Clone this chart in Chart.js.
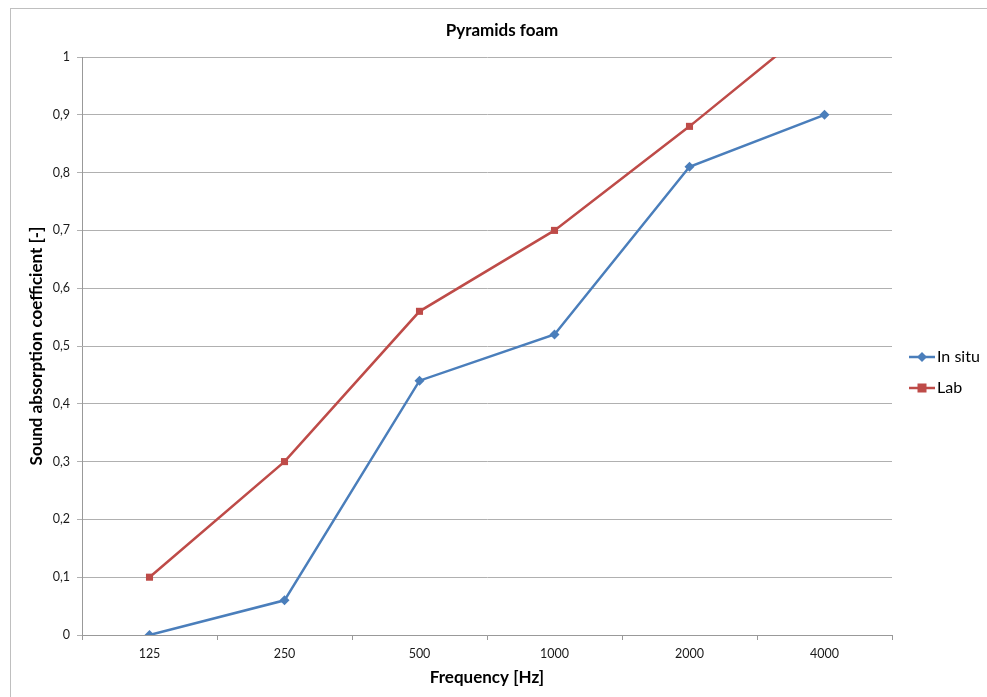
<!DOCTYPE html>
<html>
<head>
<meta charset="utf-8">
<script src="https://cdn.jsdelivr.net/npm/chart.js@4"></script>
<style>
  html, body { margin: 0; padding: 0; background: #fff; }
  #wrap { width: 987px; height: 697px; }
</style>
</head>
<body>
<div id="wrap"><canvas id="myChart" width="987" height="697"></canvas></div>
<script>
// data
const frequencies = ['125', '250', '500', '1000', '2000', '4000'];
const inSitu = [0, 0.06, 0.44, 0.52, 0.81, 0.9];
const lab = [0.1, 0.3, 0.56, 0.7, 0.88, 1.07];

const blue = '#4a7ebb';
const red = '#be4b48';
const fontName = 'Lato, "Open Sans", sans-serif';

// outer frame + legend like excel
const excelBits = {
  id: 'excelBits',
  beforeDraw(chart) {
    const c = chart.ctx;
    c.save();
    c.strokeStyle = '#bfbfbf';
    c.lineWidth = 1;
    c.strokeRect(10.5, 8.5, 1000, 720);
    c.restore();
  },
  afterDraw(chart) {
    const c = chart.ctx;
    const items = [
      { text: 'In situ', color: blue, style: 'rectRot', y: 357 },
      { text: 'Lab', color: red, style: 'rect', y: 388 }
    ];
    c.save();
    items.forEach(it => {
      c.strokeStyle = it.color;
      c.lineWidth = 2.5;
      c.beginPath();
      c.moveTo(909, it.y);
      c.lineTo(935, it.y);
      c.stroke();
      c.fillStyle = it.color;
      if (it.style === 'rect') {
        c.fillRect(917.5, it.y - 4.5, 9, 9);
      } else {
        c.beginPath();
        c.moveTo(922, it.y - 5);
        c.lineTo(927, it.y);
        c.lineTo(922, it.y + 5);
        c.lineTo(917, it.y);
        c.closePath();
        c.fill();
      }
      c.fillStyle = '#000';
      c.font = '16px ' + fontName;
      c.textBaseline = 'middle';
      c.textAlign = 'left';
      c.fillText(it.text, 937, it.y);
    });
    c.restore();
  }
};

const config = {
  type: 'line',
  data: {
    labels: frequencies,
    datasets: [{
      label: 'In situ',
      data: inSitu,
      borderColor: blue,
      backgroundColor: blue,
      borderWidth: 2.5,
      pointStyle: 'rectRot',
      pointRadius: 5,
      pointBorderWidth: 0,
      tension: 0
    }, {
      label: 'Lab',
      data: lab,
      borderColor: red,
      backgroundColor: red,
      borderWidth: 2.5,
      pointStyle: 'rect',
      pointRadius: 5,
      pointBorderWidth: 0,
      tension: 0
    }]
  },
  options: {
    responsive: false,
    animation: false,
    layout: { padding: { left: 17, right: 0, top: 0, bottom: 0 } },
    plugins: {
      legend: { display: false },
      tooltip: { enabled: false },
      title: {
        display: true,
        text: 'Pyramids foam',
        color: '#000',
        font: { family: fontName, size: 17, weight: 'bold', lineHeight: 1.2 },
        padding: { top: 20.5, bottom: 16.1 }
      }
    },
    scales: {
      x: {
        offset: true,
        afterFit(scale) { scale.height = 62; },
        grid: {
          offset: true,
          drawOnChartArea: false,
          drawTicks: true,
          tickLength: 5,
          color: '#999'
        },
        border: { color: '#999' },
        ticks: {
          color: '#1a1a1a',
          padding: 6,
          maxRotation: 0,
          font: { family: fontName, size: 12.5 }
        },
        title: {
          display: true,
          text: 'Frequency [Hz]',
          color: '#000',
          font: { family: fontName, size: 17, weight: 'bold', lineHeight: 1.2 },
          padding: { top: 0, bottom: 8.8 }
        }
      },
      y: {
        min: 0,
        max: 1,
        afterFit(scale) { scale.width = 65; },
        grid: {
          color: '#b0b0b0',
          tickLength: 5,
          drawTicks: true
        },
        border: { color: '#999' },
        ticks: {
          stepSize: 0.1,
          color: '#1a1a1a',
          padding: 7,
          font: { family: fontName, size: 12.5 },
          callback: v => String(Math.round(v * 10) / 10).replace('.', ',')
        },
        title: {
          display: true,
          text: 'Sound absorption coefficient [-]',
          color: '#000',
          font: { family: fontName, size: 17, weight: 'bold', lineHeight: 1.2 },
          padding: { top: 9.8, bottom: 0 }
        }
      },
      // empty right axis, only keeps room for the legend
      legendSpace: {
        type: 'linear',
        position: 'right',
        afterFit(scale) { scale.width = 95; },
        grid: { display: false },
        border: { display: false },
        ticks: { display: false }
      }
    }
  },
  plugins: [excelBits]
};

const myChart = new Chart(document.getElementById('myChart'), config);
</script>
</body>
</html>
